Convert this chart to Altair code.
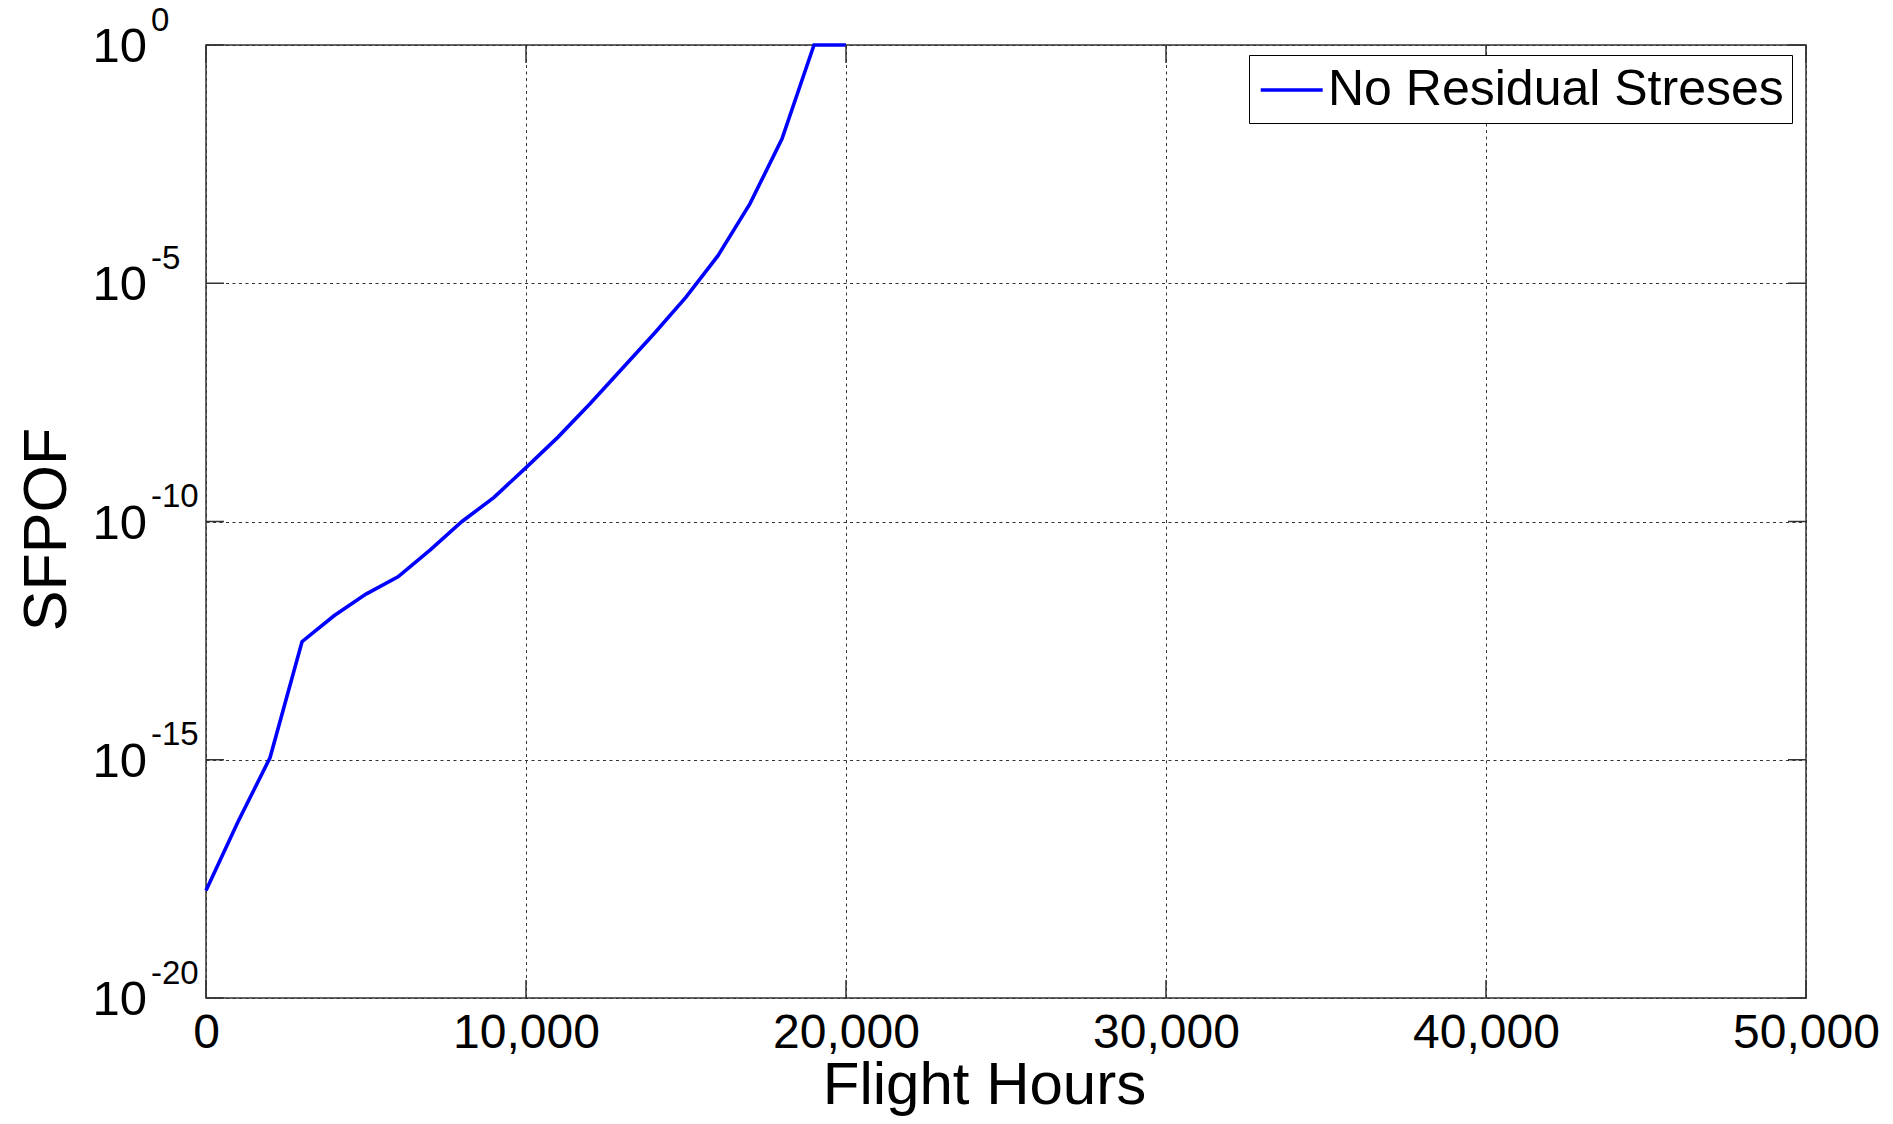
import altair as alt
import pandas as pd

# ---- data ----
hours = [0, 1000, 2000, 3000, 4000, 5000, 6000, 7000, 8000, 9000, 10000,
         11000, 12000, 13000, 14000, 15000, 16000, 17000, 18000, 19000, 20000]
sfpof = [1.8e-18, 5.0e-17, 1.1e-15, 3.0e-13, 1.05e-12, 3.0e-12, 6.9e-12,
         2.5e-11, 1.0e-10, 3.2e-10, 1.35e-9, 5.9e-9, 2.95e-8, 1.6e-7,
         8.7e-7, 5.1e-6, 3.8e-5, 4.7e-4, 1.07e-2, 1.0, 1.0]
series_name = "No Residual Streses"

x_ticks = [0, 10000, 20000, 30000, 40000, 50000]
y_ticks = [1e0, 1e-5, 1e-10, 1e-15, 1e-20]
y_exps = ["0", "-5", "-10", "-15", "-20"]

FONT = "Liberation Sans"
W, H = 1600, 953
LW = 3.6

df = pd.DataFrame({"hours": hours, "sfpof": sfpof, "series": [series_name] * len(hours)})
dfx = pd.DataFrame({"hours": x_ticks})
dfy = pd.DataFrame({"sfpof": y_ticks, "exp": y_exps})

xscale = alt.Scale(domain=[0, 50000], nice=False, zero=False)
yscale = alt.Scale(type="log", domain=[1e-20, 1], nice=False)

xaxis = alt.Axis(values=x_ticks, labelExpr="format(datum.value, ',')",
                 labelFontSize=48, labelFont=FONT,
                 labelColor="#000", labelPadding=11, labelFlush=False,
                 labelOverlap=False, labelBound=False,
                 ticks=False, tickSize=0, domain=False,
                 grid=True, gridDash=[3, 3.5], gridColor="#333333", gridWidth=1, gridOpacity=1,
                 title="Flight Hours", titleFontSize=60, titleFont=FONT,
                 titleFontWeight="normal", titleColor="#000",
                 titleX=778, titleY=105.5, titleBaseline="alphabetic", titleAlign="center")
yaxis = alt.Axis(values=y_ticks, labels=False, ticks=False, tickSize=0, domain=False,
                 grid=True, gridDash=[3, 3.5], gridColor="#333333", gridWidth=1, gridOpacity=1,
                 title="SFPOF", titleFontSize=61, titleFont=FONT,
                 titleFontWeight="normal", titleColor="#000",
                 titleAngle=270, titleX=-141, titleY=484,
                 titleBaseline="alphabetic", titleAlign="center")

X = alt.X("hours:Q", scale=xscale, axis=xaxis, title="Flight Hours")
Y = alt.Y("sfpof:Q", scale=yscale, axis=yaxis, title="SFPOF")

line = alt.Chart(df).mark_line(strokeWidth=LW).encode(
    x=X, y=Y,
    color=alt.Color("series:N",
                    scale=alt.Scale(domain=[series_name], range=["#0000ff"]),
                    legend=alt.Legend(title=None, orient="none", legendX=1043, legendY=10,
                                      strokeColor="#000", fillColor="#ffffff", padding=8,
                                      symbolType="M-0.932,0H1.548", symbolSize=2500,
                                      symbolStrokeWidth=LW,
                                      labelFontSize=50, labelFont=FONT, labelColor="#000",
                                      labelOffset=17, labelLimit=2000)),
)

tick_style = dict(color="#333333", strokeWidth=1.5)
xt_bottom = alt.Chart(dfx).mark_rule(**tick_style).encode(
    x=X, y=alt.value(H), y2=alt.value(H - 18))
xt_top = alt.Chart(dfx).mark_rule(**tick_style).encode(
    x=X, y=alt.value(0), y2=alt.value(18))
yt_left = alt.Chart(dfy).mark_rule(**tick_style).encode(
    y=Y, x=alt.value(0), x2=alt.value(18))
yt_right = alt.Chart(dfy).mark_rule(**tick_style).encode(
    y=Y, x=alt.value(W), x2=alt.value(W - 18))

ten = alt.Chart(dfy).mark_text(text="10", align="left", baseline="alphabetic", dy=17,
                               fontSize=49, font=FONT, color="#000").encode(
    y=Y, x=alt.value(-113.5))
expo = alt.Chart(dfy).mark_text(align="left", baseline="alphabetic", dy=-14.5,
                                fontSize=33, font=FONT, color="#000").encode(
    y=Y, x=alt.value(-55), text="exp:N")

chart = alt.layer(line, xt_bottom, xt_top, yt_left, yt_right, ten, expo).properties(
    width=W, height=H,
    padding={"left": 206, "top": 45, "right": 87, "bottom": 126},
    autosize=alt.AutoSizeParams(type="none"),
    background="#ffffff",
).configure_view(stroke="#333333", strokeWidth=1.5)

chart.save("out.html", embed_options={"renderer": "svg", "actions": False})
